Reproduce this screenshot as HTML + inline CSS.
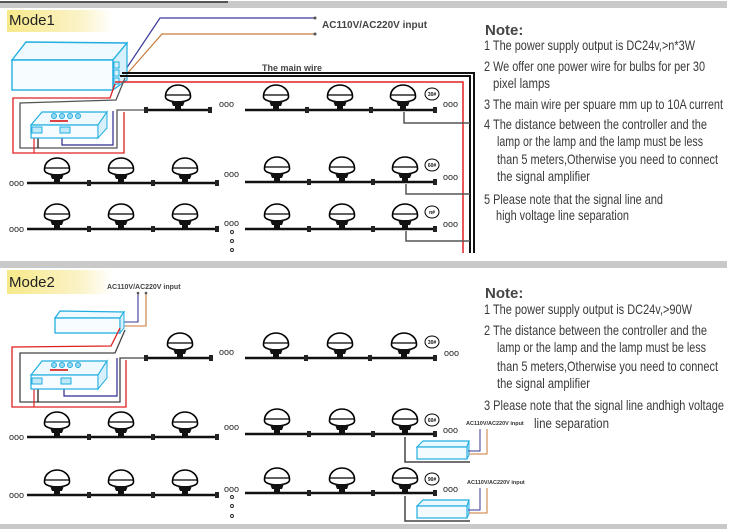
<!DOCTYPE html>
<html><head><meta charset="utf-8"><style>
html,body{margin:0;padding:0;background:#fff;}
svg{display:block;}
text{font-family:"Liberation Sans",sans-serif;}
</style></head><body>
<svg width="731" height="529" viewBox="0 0 731 529" xmlns="http://www.w3.org/2000/svg">
<defs>
<linearGradient id="yg" x1="0" x2="1"><stop offset="0" stop-color="#f7e98a"/><stop offset="0.7" stop-color="#fbf3c8"/><stop offset="1" stop-color="#fff"/></linearGradient>
<g id="lamp">
<path d="M-12.5,-14 A12.5,11 0 0 1 12.5,-14 L12.5,-13 A12.5,5 0 0 1 -12.5,-13 Z" fill="#fff" stroke="#000" stroke-width="1.6"/>
<line x1="-12" y1="-15" x2="12" y2="-15" stroke="#000" stroke-width="1.3"/>
<path d="M-7,-9 L7,-9 L5,-4 L-5,-4 Z" fill="#111"/>
<rect x="-3" y="-4" width="6" height="4" fill="#111"/>
</g>
<g id="plug"><rect x="-2" y="-3" width="4" height="6" fill="#222"/></g>
<g id="num"><ellipse cx="0" cy="0" rx="7" ry="6" fill="#fff" stroke="#000" stroke-width="1"/></g>
<g id="spsu">
<path d="M0,6 L6,0 L52,0 L50,6 Z" fill="#eaf8ff" stroke="#22aee0" stroke-width="1.2"/>
<rect x="0" y="6" width="50" height="12" fill="#f4fbff" stroke="#22aee0" stroke-width="1.2"/>
<path d="M50,6 L52,0 L52,14 L50,18 Z" fill="#bfe9f8" stroke="#22aee0" stroke-width="1"/>
</g>
</defs>

<rect x="0" y="1" width="727" height="7" fill="#c9c9c9"/>
<rect x="0" y="1" width="228" height="2" fill="#555"/>
<rect x="0" y="261" width="727" height="7" fill="#c9c9c9"/>
<rect x="0" y="524" width="727" height="5" fill="#c9c9c9"/>

<rect x="7" y="10" width="105" height="22" fill="url(#yg)"/>
<text x="9" y="25" font-size="15" fill="#222">Mode1</text>
<rect x="7" y="270" width="105" height="24" fill="url(#yg)"/>
<text x="9" y="287" font-size="15" fill="#222">Mode2</text>

<!-- MODE 1 -->
<polyline points="124,72 160,18 314,18" fill="none" stroke="#3a3a9a" stroke-width="1.2"/>
<polyline points="126,75 162,34 314,34" fill="none" stroke="#c87a3a" stroke-width="1.2"/>
<circle cx="315" cy="18" r="1.5" fill="#555"/><circle cx="315" cy="34" r="1.5" fill="#555"/>
<text x="322" y="28" font-size="10" font-weight="bold" fill="#444">AC110V/AC220V input</text>
<text x="262" y="71" font-size="9" font-weight="bold" fill="#444">The main wire</text>

<path d="M12,60 L26,42 L127,43 L113,60 Z" fill="#eefaff" stroke="#22aee0" stroke-width="1.4"/>
<rect x="12" y="60" width="101" height="30" fill="#f6fcff" stroke="#22aee0" stroke-width="1.4"/>
<path d="M113,60 L127,43 L127,80 L113,90 Z" fill="#d6f1fb" stroke="#22aee0" stroke-width="1.2"/>
<rect x="114" y="62" width="5" height="6" fill="none" stroke="#22aee0"/><rect x="114" y="70" width="5" height="6" fill="none" stroke="#22aee0"/><rect x="114" y="78" width="5" height="6" fill="none" stroke="#22aee0"/>

<polyline points="120,76 470,76 470,253" fill="none" stroke="#111" stroke-width="2"/>
<polyline points="122,73 474,73 474,253" fill="none" stroke="#111" stroke-width="2"/>
<polyline points="115,82 463,82 463,253" fill="none" stroke="#e02020" stroke-width="1.5"/>
<polyline points="125,78 116,100 20,103 20,148 117,148 117,110 145,110" fill="none" stroke="#555" stroke-width="1.3"/>
<polyline points="115,84 110,98 13,98 13,153 124,153 124,112" fill="none" stroke="#e02020" stroke-width="1.3"/>
<polyline points="62,132 62,145 113,145 113,111" fill="none" stroke="#2a2a90" stroke-width="1.2"/>
<line x1="34" y1="131" x2="34" y2="153" stroke="#e02020" stroke-width="1.2"/>
<line x1="38" y1="131" x2="38" y2="148" stroke="#111" stroke-width="1.2"/>
<path d="M31,125 L42,112 L107,112 L98,125 Z" fill="#eefaff" stroke="#22aee0" stroke-width="1.2"/>
<rect x="31" y="125" width="67" height="13" fill="#f6fcff" stroke="#22aee0" stroke-width="1.2"/>
<path d="M98,125 L107,112 L107,128 L98,138 Z" fill="#d6f1fb" stroke="#22aee0"/>
<circle cx="54" cy="116" r="2.5" fill="#9ad8f2" stroke="#22aee0"/><circle cx="62" cy="116" r="2.5" fill="#9ad8f2" stroke="#22aee0"/><circle cx="70" cy="116" r="2.5" fill="#9ad8f2" stroke="#22aee0"/><circle cx="78" cy="116" r="2.5" fill="#9ad8f2" stroke="#22aee0"/>
<rect x="50" y="120" width="18" height="2" fill="#d44"/>
<rect x="32" y="127" width="10" height="6" fill="#bfe9f8" stroke="#22aee0"/>
<rect x="60" y="127" width="10" height="6" fill="#bfe9f8" stroke="#22aee0"/>

<g stroke="#111" stroke-width="2.5">
<line x1="145" y1="110" x2="211" y2="110"/><line x1="245" y1="110" x2="436" y2="110"/>
<line x1="27" y1="183" x2="218" y2="183"/><line x1="245" y1="182" x2="436" y2="182"/>
<line x1="27" y1="229" x2="218" y2="229"/><line x1="245" y1="229" x2="436" y2="229"/>
</g>
<g>
<use href="#plug" x="146" y="110"/><use href="#plug" x="210" y="110"/><use href="#plug" x="307" y="110"/><use href="#plug" x="371" y="110"/><use href="#plug" x="435" y="110"/>
<use href="#plug" x="89" y="183"/><use href="#plug" x="153" y="183"/><use href="#plug" x="217" y="183"/><use href="#plug" x="309" y="182"/><use href="#plug" x="373" y="182"/><use href="#plug" x="435" y="182"/>
<use href="#plug" x="89" y="229"/><use href="#plug" x="153" y="229"/><use href="#plug" x="217" y="229"/><use href="#plug" x="309" y="229"/><use href="#plug" x="373" y="229"/><use href="#plug" x="435" y="229"/>
<use href="#lamp" x="178" y="110"/><use href="#lamp" x="276" y="110"/><use href="#lamp" x="340" y="110"/><use href="#lamp" x="403" y="110"/>
<use href="#lamp" x="57" y="183"/><use href="#lamp" x="121" y="183"/><use href="#lamp" x="185" y="183"/><use href="#lamp" x="277" y="182"/><use href="#lamp" x="342" y="182"/><use href="#lamp" x="405" y="182"/>
<use href="#lamp" x="57" y="229"/><use href="#lamp" x="121" y="229"/><use href="#lamp" x="185" y="229"/><use href="#lamp" x="277" y="229"/><use href="#lamp" x="342" y="229"/><use href="#lamp" x="405" y="229"/>
</g>
<g fill="none" stroke="#555" stroke-width="1.5">
<polyline points="404,112 404,123 470,123"/><polyline points="406,184 406,194 470,194"/><polyline points="406,231 406,241 470,241"/>
</g>
<use href="#num" x="432" y="94"/><use href="#num" x="432" y="165"/><use href="#num" x="432" y="212"/>
<g font-size="5" font-weight="bold" text-anchor="middle" fill="#111"><text x="432" y="96">30#</text><text x="432" y="167">60#</text><text x="432" y="214">n#</text></g>
<g font-size="9" fill="#222">
<text x="219" y="107">ooo</text><text x="443" y="107">ooo</text>
<text x="9" y="186">ooo</text><text x="224" y="177">ooo</text><text x="443" y="180">ooo</text>
<text x="9" y="232">ooo</text><text x="224" y="226">ooo</text><text x="443" y="227">ooo</text>
</g>
<g fill="none" stroke="#222" stroke-width="0.9"><circle cx="232" cy="232" r="1.5"/><circle cx="232" cy="241" r="1.5"/><circle cx="232" cy="250" r="1.5"/></g>

<g fill="#3a3a3a">
<text x="485" y="35" font-size="15" font-weight="bold" fill="#444">Note:</text>
<g font-size="14">
<text x="484" y="50" textLength="211" lengthAdjust="spacingAndGlyphs">1  The power supply output is DC24v,&gt;n*3W</text>
<text x="484" y="71" textLength="221" lengthAdjust="spacingAndGlyphs">2  We offer one power wire for bulbs for per 30</text>
<text x="493" y="88" textLength="57" lengthAdjust="spacingAndGlyphs">pixel lamps</text>
<text x="484" y="109" textLength="239" lengthAdjust="spacingAndGlyphs">3  The main wire per spuare mm up to 10A current</text>
<text x="484" y="129" textLength="223" lengthAdjust="spacingAndGlyphs">4  The distance between the controller and the</text>
<text x="497" y="146" textLength="206" lengthAdjust="spacingAndGlyphs">lamp or the lamp and the lamp must be less</text>
<text x="497" y="164" textLength="221" lengthAdjust="spacingAndGlyphs">than 5 meters,Otherwise you need to connect</text>
<text x="497" y="181" textLength="93" lengthAdjust="spacingAndGlyphs">the signal amplifier</text>
<text x="484" y="204" textLength="179" lengthAdjust="spacingAndGlyphs">5  Please note that the signal line and</text>
<text x="496" y="220" textLength="133" lengthAdjust="spacingAndGlyphs">high voltage line separation</text>
</g></g>

<!-- MODE 2 -->
<text x="107" y="289" font-size="7" font-weight="bold" fill="#444">AC110V/AC220V input</text>
<polyline points="121,322 138,322 138,293" fill="none" stroke="#3a3a9a" stroke-width="1.1"/>
<polyline points="123,326 146,326 146,293" fill="none" stroke="#c87a3a" stroke-width="1.1"/>
<circle cx="138" cy="293" r="1.3" fill="#555"/><circle cx="146" cy="293" r="1.3" fill="#555"/>
<path d="M55,318 L60,311 L124,312 L120,318 Z" fill="#eefaff" stroke="#22aee0" stroke-width="1.3"/>
<rect x="55" y="318" width="65" height="15" fill="#f6fcff" stroke="#22aee0" stroke-width="1.3"/>
<path d="M120,318 L124,312 L124,328 L120,333 Z" fill="#d6f1fb" stroke="#22aee0"/>
<polyline points="120,328 111,346 12,347 12,407 126,407 126,360" fill="none" stroke="#e02020" stroke-width="1.3"/>
<polyline points="125,330 115,353 20,353 20,402 120,402 120,358 145,358" fill="none" stroke="#444" stroke-width="1.3"/>
<polyline points="64,384 64,396 117,396 117,358" fill="none" stroke="#2a2a90" stroke-width="1.2"/>
<line x1="34" y1="382" x2="34" y2="407" stroke="#e02020" stroke-width="1.2"/>
<line x1="38" y1="382" x2="38" y2="402" stroke="#111" stroke-width="1.2"/>
<path d="M31,375 L42,361 L107,361 L98,375 Z" fill="#eefaff" stroke="#22aee0" stroke-width="1.2"/>
<rect x="31" y="375" width="67" height="14" fill="#f6fcff" stroke="#22aee0" stroke-width="1.2"/>
<path d="M98,375 L107,361 L107,378 L98,389 Z" fill="#d6f1fb" stroke="#22aee0"/>
<circle cx="54" cy="365" r="2.5" fill="#9ad8f2" stroke="#22aee0"/><circle cx="62" cy="365" r="2.5" fill="#9ad8f2" stroke="#22aee0"/><circle cx="70" cy="365" r="2.5" fill="#9ad8f2" stroke="#22aee0"/><circle cx="78" cy="365" r="2.5" fill="#9ad8f2" stroke="#22aee0"/>
<rect x="50" y="369" width="18" height="2" fill="#d44"/>
<rect x="32" y="378" width="10" height="6" fill="#bfe9f8" stroke="#22aee0"/>
<rect x="61" y="378" width="10" height="6" fill="#bfe9f8" stroke="#22aee0"/>

<g stroke="#111" stroke-width="2.5">
<line x1="145" y1="358" x2="212" y2="358"/><line x1="245" y1="358" x2="436" y2="358"/>
<line x1="27" y1="437" x2="218" y2="437"/><line x1="245" y1="434" x2="436" y2="434"/>
<line x1="27" y1="495" x2="218" y2="495"/><line x1="245" y1="493" x2="436" y2="493"/>
</g>
<g>
<use href="#plug" x="146" y="358"/><use href="#plug" x="211" y="358"/><use href="#plug" x="306" y="358"/><use href="#plug" x="370" y="358"/><use href="#plug" x="435" y="358"/>
<use href="#plug" x="89" y="437"/><use href="#plug" x="153" y="437"/><use href="#plug" x="217" y="437"/><use href="#plug" x="309" y="434"/><use href="#plug" x="373" y="434"/><use href="#plug" x="435" y="434"/>
<use href="#plug" x="89" y="495"/><use href="#plug" x="153" y="495"/><use href="#plug" x="217" y="495"/><use href="#plug" x="309" y="493"/><use href="#plug" x="373" y="493"/><use href="#plug" x="435" y="493"/>
<use href="#lamp" x="180" y="358"/><use href="#lamp" x="276" y="358"/><use href="#lamp" x="340" y="358"/><use href="#lamp" x="404" y="358"/>
<use href="#lamp" x="57" y="437"/><use href="#lamp" x="121" y="437"/><use href="#lamp" x="185" y="437"/><use href="#lamp" x="277" y="434"/><use href="#lamp" x="342" y="434"/><use href="#lamp" x="405" y="434"/>
<use href="#lamp" x="57" y="495"/><use href="#lamp" x="121" y="495"/><use href="#lamp" x="185" y="495"/><use href="#lamp" x="277" y="493"/><use href="#lamp" x="342" y="493"/><use href="#lamp" x="405" y="493"/>
</g>
<use href="#num" x="432" y="342"/><use href="#num" x="432" y="420"/><use href="#num" x="432" y="479"/>
<g font-size="5" font-weight="bold" text-anchor="middle" fill="#111"><text x="432" y="344">30#</text><text x="432" y="422">60#</text><text x="432" y="481">90#</text></g>
<g font-size="9" fill="#222">
<text x="219" y="355">ooo</text><text x="444" y="356">ooo</text>
<text x="9" y="440">ooo</text><text x="224" y="430">ooo</text><text x="443" y="433">ooo</text>
<text x="9" y="498">ooo</text><text x="224" y="492">ooo</text><text x="443" y="492">ooo</text>
</g>
<g fill="none" stroke="#222" stroke-width="0.9"><circle cx="232" cy="497" r="1.5"/><circle cx="232" cy="506" r="1.5"/><circle cx="232" cy="516" r="1.5"/></g>
<g fill="none" stroke="#444" stroke-width="1.5">
<polyline points="405,437 405,462 470,462"/><polyline points="405,496 405,521 470,521"/>
</g>
<use href="#spsu" x="417" y="441"/><use href="#spsu" x="417" y="500"/>
<polyline points="468,451 480,451 480,429" fill="none" stroke="#3a3a9a" stroke-width="1"/>
<polyline points="469,454 487,454 487,429" fill="none" stroke="#c87a3a" stroke-width="1"/>
<polyline points="468,510 480,510 480,488" fill="none" stroke="#3a3a9a" stroke-width="1"/>
<polyline points="469,513 487,513 487,488" fill="none" stroke="#c87a3a" stroke-width="1"/>
<g font-size="5.5" font-weight="bold" fill="#333"><text x="466" y="425">AC110V/AC220V input</text><text x="467" y="484">AC110V/AC220V input</text></g>

<g fill="#3a3a3a">
<text x="485" y="298" font-size="15" font-weight="bold" fill="#444">Note:</text>
<g font-size="14">
<text x="484" y="314" textLength="208" lengthAdjust="spacingAndGlyphs">1  The power supply output is DC24v,&gt;90W</text>
<text x="484" y="335" textLength="223" lengthAdjust="spacingAndGlyphs">2  The distance between the controller and the</text>
<text x="497" y="352" textLength="209" lengthAdjust="spacingAndGlyphs">lamp or the lamp and the lamp must be less</text>
<text x="497" y="371" textLength="221" lengthAdjust="spacingAndGlyphs">than 5 meters,Otherwise you need to connect</text>
<text x="497" y="388" textLength="93" lengthAdjust="spacingAndGlyphs">the signal amplifier</text>
<text x="484" y="410" textLength="240" lengthAdjust="spacingAndGlyphs">3  Please note that the signal line andhigh voltage</text>
<text x="534" y="428" textLength="75" lengthAdjust="spacingAndGlyphs">line  separation</text>
</g></g>
</svg>
</body></html>
